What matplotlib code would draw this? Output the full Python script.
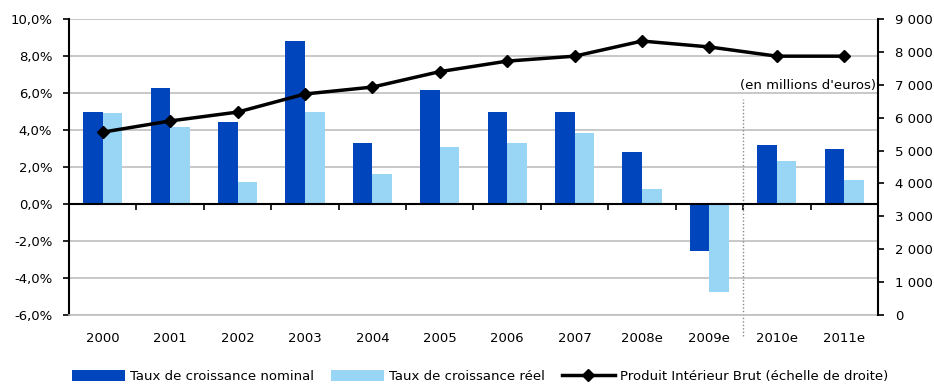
import numpy as np
import matplotlib
matplotlib.use("Agg")
from matplotlib import pyplot as plt
from matplotlib.ticker import FuncFormatter

annees = ["2000", "2001", "2002", "2003", "2004", "2005", "2006", "2007",
          "2008e", "2009e", "2010e", "2011e"]
taux_nominal = [5.0, 6.25, 4.45, 8.8, 3.3, 6.15, 5.0, 5.0, 2.8, -2.55, 3.2, 3.0]
taux_reel = [4.9, 4.15, 1.2, 5.0, 1.6, 3.1, 3.3, 3.85, 0.8, -4.75, 2.35, 1.3]
pib = [5560, 5900, 6170, 6720, 6930, 7400, 7720, 7870, 8330, 8150, 7870, 7870]

bleu_fonce = "#0045BC"
bleu_clair = "#99D6F6"
gris = "#BFBFBF"

plt.rcParams["font.family"] = "DejaVu Sans"
plt.rcParams["font.size"] = 9.5

fig = plt.figure(figsize=(9.34, 3.84), dpi=100)
ax = fig.add_axes([0.0739, 0.1797, 0.8661, 0.7708])

x = np.arange(len(annees))
w = 0.29
b1 = ax.bar(x - w / 2, taux_nominal, w, color=bleu_fonce, label="Taux de croissance nominal")
b2 = ax.bar(x + w / 2, taux_reel, w, color=bleu_clair, label="Taux de croissance réel")

ax.set_xlim(-0.5, len(annees) - 0.5)
ax.set_ylim(-6, 10)
ax.set_yticks(np.arange(-6, 10.1, 2))
ax.yaxis.set_major_formatter(FuncFormatter(lambda v, p: f"{v:.1f}%".replace(".", ",")))
ax.grid(axis="y", color=gris, linewidth=1.2)
ax.set_axisbelow(True)
ax.axhline(0, color="black", linewidth=1.5, zorder=3)

ax.set_xticks(x)
ax.set_xticklabels(annees)
ax.tick_params(axis="x", length=0, pad=12)
ax.tick_params(axis="y", direction="out", length=4, width=1.2, pad=8)

for s in ["top", "right"]:
    ax.spines[s].set_visible(False)
ax.spines["bottom"].set_color(gris)
ax.spines["bottom"].set_linewidth(1.2)
ax.spines["left"].set_linewidth(1.5)

# tick marks on the zero line, between categories
zero = ax.secondary_xaxis(6 / 16)
zero.set_xticks(np.arange(-0.5, len(annees) - 0.4, 1))
zero.set_xticklabels([])
zero.tick_params(length=4, width=1.2, direction="out")
zero.spines["bottom"].set_visible(False)

ax2 = ax.twinx()
ax2.set_ylim(0, 9000)
ax2.set_yticks(np.arange(0, 9001, 1000))
ax2.yaxis.set_major_formatter(FuncFormatter(lambda v, p: f"{int(v):,}".replace(",", " ")))
ax2.tick_params(axis="y", direction="out", length=4, width=1.2, pad=8)
for s in ["top", "left", "bottom"]:
    ax2.spines[s].set_visible(False)
ax2.spines["right"].set_linewidth(1.5)
l1, = ax2.plot(x, pib, color="black", linewidth=2.5, marker="D", markersize=6,
               label="Produit Intérieur Brut (échelle de droite)")

ax.axvline(9.5, ymin=-0.07, ymax=0.73, color="#888888", linestyle=(0, (1, 1.5)),
           linewidth=1, clip_on=False)
ax.text(0.998, 0.774, "(en millions d'euros)", transform=ax.transAxes,
        ha="right", va="center")

fig.legend(handles=[b1, b2, l1], loc="center", bbox_to_anchor=(0.514, 0.02), ncol=3,
           frameon=False, handlelength=4, handleheight=0.9, columnspacing=1.3,
           handletextpad=0.4)

fig.savefig("out.png", dpi=100)
